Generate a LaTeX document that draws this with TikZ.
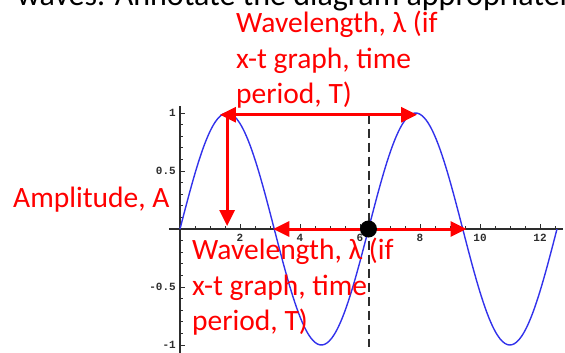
\documentclass[tikz,border=0pt]{standalone}
\usepackage{fontspec}
\setmainfont{Carlito}
\newfontfamily\tickfont{Liberation Mono}
\usetikzlibrary{arrows.meta}
\definecolor{annotred}{RGB}{255,0,0}
\definecolor{curveblue}{RGB}{50,50,235}
\definecolor{axisgray}{RGB}{45,45,45}
\tikzset{
  annot/.style={text=annotred, inner sep=0pt, align=left, font=\fontsize{29.5}{35.5}\selectfont},
  wavearrow/.style={draw=annotred, line width=3pt, >={Triangle[length=16pt,width=15pt]}},
  ticklabel/.style={font=\tickfont\bfseries\fontsize{11}{12}\selectfont, text=axisgray, inner sep=0pt}
}
\begin{document}
\begin{tikzpicture}[x=1pt,y=1pt]
    \clip (0,0) rectangle (565,-353);
    % heading, cut off at the top
    \node[anchor=base west, inner sep=0pt, font=\fontsize{32}{36}\selectfont] (heading) at (17,-6) {waves. Annotate the diagram appropriately};

    % graph of sin x
    \begin{scope}[shift={(180,-229)}, x=30pt, y=116pt]
        \draw[axisgray, line width=1.4pt] (-0.37,0) -- (12.75,0);
        \draw[axisgray, line width=1.4pt] (0,-1.12) -- (0,1.06);
        \foreach \t in {0.5,1,...,12.5} \draw[axisgray, line width=0.9pt] (\t,0) -- ++(0,3pt);
        \foreach \t in {2,4,...,12} {
            \draw[axisgray, line width=1pt] (\t,0) -- ++(0,5pt);
            \node[ticklabel] (xt\t) at (\t,-0.08) {\t};
        }
        \foreach \i in {-10,...,10} \draw[axisgray, line width=0.9pt] (0,\i/10) -- ++(3pt,0);
        \foreach \v/\lab/\nm in {1/1/a, 0.5/0.5/b, -0.5/-0.5/c, -1/-1/d} {
            \draw[axisgray, line width=1pt] (0,\v) -- ++(5pt,0);
            \node[ticklabel, anchor=east] (yt\nm) at ([xshift=-4pt]0,\v) {\lab};
        }
        \draw[curveblue, line width=1.4pt, domain=0:12.566, samples=160, smooth] plot (\x,{sin(\x r)});

        \coordinate (crest) at (1.5708,0.985);
        \coordinate (foot) at (1.5708,0.025);
        \coordinate (peakL) at (1.33,0.985);
        \coordinate (peakR) at (7.9,0.985);
        \coordinate (zeroL) at (3.11,0);
        \coordinate (zeroR) at (9.55,0);
        \coordinate (twopi) at (6.2832,0);
        \coordinate (dashtop) at (6.2832,0.985);
        \coordinate (dashbot) at (6.2832,-1.02);
    \end{scope}

    % period line and arrows
    \draw[axisgray, line width=2pt, dash pattern=on 9pt off 5pt] (dashtop) -- (dashbot);
    \draw[wavearrow, ->] (crest) -- (foot);
    \draw[wavearrow, <->] (peakL) -- (peakR);
    \draw[wavearrow, <->] (zeroL) -- (zeroR);
    \fill (twopi) circle (8.5pt);

    % labels
    \node[annot, anchor=base west] (amplitude) at (13,-207) {Amplitude, A};
    \node[annot, anchor=north west] (lambdatop) at (236,-11) {Wavelength, λ (if\\x-t graph, time\\period, T)};
    \node[annot, anchor=north west] (lambdabot) at (192,-238) {Wavelength, λ (if\\x-t graph, time\\period, T)};
\end{tikzpicture}
\end{document}
